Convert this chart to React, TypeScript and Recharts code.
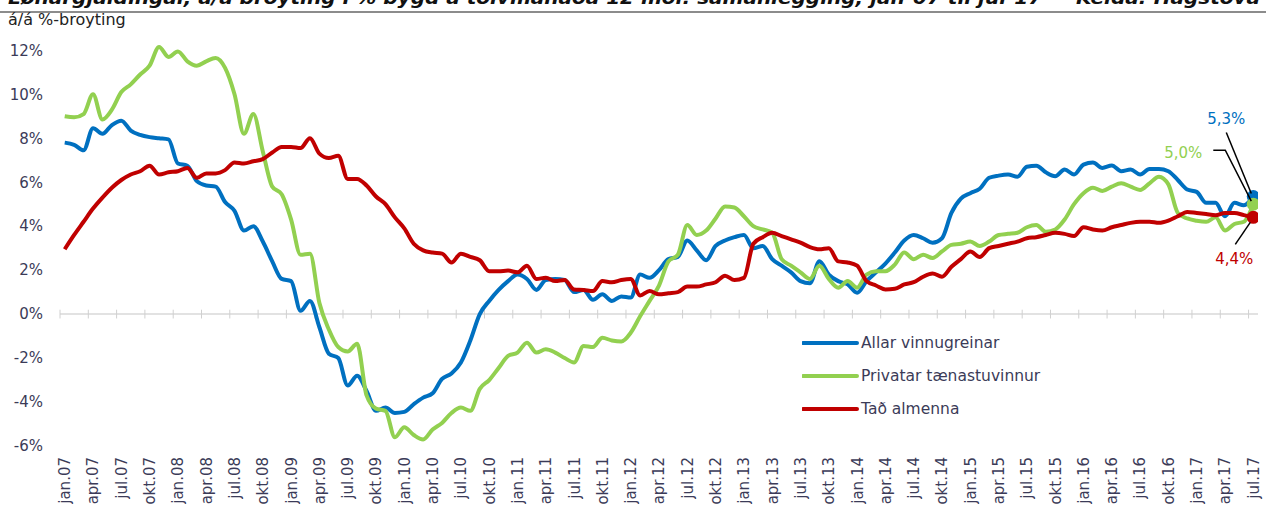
import React from 'react';
import { LineChart, Line, XAxis, YAxis, ReferenceLine } from 'recharts';

const monthNames = ['jan', 'feb', 'mar', 'apr', 'mai', 'jun', 'jul', 'aug', 'sep', 'okt', 'nov', 'des'];
const firstYear = 7;
const monthCount = 127;

const categories: string[] = [];
for (let i = 0; i < monthCount; i++) {
  const yy = firstYear + Math.floor(i / 12);
  categories.push(`${monthNames[i % 12]}.${String(yy).padStart(2, '0')}`);
}

const allarVinnugreinar = [
  7.8, 7.7, 7.45, 8.45, 8.2, 8.6, 8.8, 8.35, 8.15, 8.05, 8.0, 7.95,
  6.85, 6.75, 6.05, 5.85, 5.8, 5.1, 4.7, 3.8, 4.0, 3.3, 2.4, 1.6,
  1.5, 0.15, 0.6, -0.6, -1.8, -2.0, -3.25, -2.8, -3.5, -4.4, -4.25, -4.5,
  -4.45, -4.1, -3.8, -3.6, -2.95, -2.7, -2.2, -1.2, 0.0, 0.6, 1.1, 1.5,
  1.8, 1.6, 1.1, 1.55, 1.6, 1.55, 1.0, 1.1, 0.65, 0.9, 0.6, 0.8,
  0.75, 1.8, 1.65, 2.0, 2.5, 2.6, 3.35, 2.9, 2.45, 3.1, 3.35, 3.5,
  3.6, 3.0, 3.1, 2.5, 2.2, 1.9, 1.5, 1.4, 2.4, 1.8, 1.5, 1.35,
  0.97, 1.5, 1.9, 2.3, 2.8, 3.35, 3.6, 3.45, 3.25, 3.45, 4.6, 5.25,
  5.5, 5.7, 6.2, 6.3, 6.35, 6.25, 6.7, 6.75, 6.45, 6.27, 6.58, 6.35,
  6.8, 6.9, 6.65, 6.76, 6.5, 6.58, 6.35, 6.6, 6.6, 6.5, 6.1, 5.67,
  5.56, 5.06, 5.06, 4.45, 5.06, 4.95, 5.35,
];

const privatarTaenastuvinnur = [
  9.0, 8.95, 9.1, 10.0, 8.85, 9.3, 10.1, 10.45, 10.9, 11.3, 12.15, 11.7,
  11.95, 11.5, 11.3, 11.5, 11.65, 11.2, 10.0, 8.2, 9.1, 7.4, 5.8, 5.45,
  4.3, 2.7, 2.75, 0.5, -0.7, -1.5, -1.7, -1.35, -3.7, -4.3, -4.4, -5.6,
  -5.15, -5.5, -5.7, -5.25, -4.95, -4.5, -4.25, -4.4, -3.4, -3.0, -2.45, -1.9,
  -1.75, -1.3, -1.75, -1.6, -1.75, -2.0, -2.2, -1.45, -1.5, -1.08, -1.2, -1.25,
  -0.85, -0.1, 0.6, 1.3, 2.4, 2.7, 4.05, 3.6, 3.8, 4.35, 4.9, 4.85,
  4.45, 4.0, 3.85, 3.7, 2.5, 2.2, 1.9, 1.6, 2.2, 1.6, 1.2, 1.5,
  1.2, 1.8, 1.95, 1.95, 2.25, 2.8, 2.5, 2.7, 2.55, 2.85, 3.15, 3.2,
  3.3, 3.1, 3.3, 3.6, 3.65, 3.7, 3.95, 4.05, 3.75, 3.85, 4.3, 5.0,
  5.5, 5.75, 5.6, 5.8, 5.95, 5.8, 5.65, 5.95, 6.25, 5.9, 4.6, 4.35,
  4.25, 4.2, 4.4, 3.8, 4.1, 4.2, 5.0,
];

const tadAlmenna = [
  2.95, 3.6, 4.2, 4.8, 5.3, 5.75, 6.1, 6.35, 6.5, 6.75, 6.35, 6.45,
  6.5, 6.65, 6.2, 6.4, 6.4, 6.55, 6.9, 6.85, 6.95, 7.05, 7.35, 7.6,
  7.6, 7.55, 8.0, 7.3, 7.1, 7.2, 6.15, 6.15, 5.85, 5.35, 5.0, 4.4,
  3.9, 3.2, 2.9, 2.8, 2.75, 2.35, 2.75, 2.6, 2.45, 1.95, 1.95, 1.98,
  1.9, 2.2, 1.6, 1.65, 1.5, 1.55, 1.12, 1.1, 1.05, 1.5, 1.45, 1.55,
  1.6, 0.85, 1.05, 0.9, 0.95, 1.0, 1.25, 1.25, 1.35, 1.45, 1.75, 1.55,
  1.65, 3.2, 3.5, 3.7, 3.55, 3.4, 3.25, 3.05, 2.95, 3.0, 2.4, 2.35,
  2.2, 1.5, 1.3, 1.12, 1.15, 1.35, 1.45, 1.7, 1.85, 1.7, 2.15, 2.5,
  2.85, 2.6, 3.0, 3.1, 3.2, 3.3, 3.45, 3.5, 3.6, 3.7, 3.65, 3.55,
  3.95, 3.85, 3.8, 3.95, 4.05, 4.15, 4.2, 4.2, 4.15, 4.25, 4.45, 4.65,
  4.6, 4.55, 4.5, 4.6, 4.6, 4.5, 4.4,
];

const yTicks = [-6, -4, -2, 0, 2, 4, 6, 8, 10, 12];
const endLabels = ['5,3%', '5,0%', '4,4%'];
const seriesNames = ['Allar vinnugreinar', 'Privatar tænastuvinnur', 'Tað almenna'];
const titleText =
  'Lønargjaldingar, á/á broyting í % bygd á tólvmánaða 12 mðr. samanlegging, jan-07 til jul-17 — Kelda: Hagstova';
const subtitleText = 'á/á %-broyting';

const BLUE = '#0070C0';
const GREEN = '#92D050';
const RED = '#C00000';
const TEXT = '#3b3b58';
const FONT = '"DejaVu Sans", Verdana, sans-serif';

const data = categories.map((c, i) => ({
  x: i + 0.5,
  label: c,
  allar: allarVinnugreinar[i],
  privat: privatarTaenastuvinnur[i],
  almenna: tadAlmenna[i],
}));

const labelTicks = data.filter((_, i) => i % 3 === 0).map((d) => d.x);
const boundaryTicks = data.filter((_, i) => i % 3 === 0).map((_, k) => k * 3);

const XTick = (props: any) => {
  const { x, y, payload } = props;
  const idx = Math.round(payload.value - 0.5);
  return (
    <g transform={`translate(${x},${y + 11}) rotate(-90)`}>
      <text x={0} y={0} dy="0.36em" textAnchor="end" fill={TEXT} fontSize={15} fontFamily={FONT}>
        {categories[idx]}
      </text>
    </g>
  );
};

type EndSpec = {
  color: string;
  text: string;
  tx: number;
  ty: number;
  leader: string;
};

const makeEndDot = (spec: EndSpec) => (props: any) => {
  const { cx, cy, index } = props;
  if (index !== monthCount - 1) return <g key={`e${index}`} />;
  return (
    <g key={`e${index}`}>
      <circle cx={cx} cy={cy} r={6.5} fill={spec.color} />
      <polyline
        points={spec.leader
          .split(' ')
          .map((p) => {
            const [dx, dy] = p.split(',').map(Number);
            return `${cx + dx},${cy + dy}`;
          })
          .join(' ')}
        fill="none"
        stroke="#000"
        strokeWidth={1.5}
      />
      <text x={cx + spec.tx} y={cy + spec.ty} textAnchor="middle" fill={spec.color} fontSize={15} fontFamily={FONT}>
        {spec.text}
      </text>
    </g>
  );
};

const blueEnd = makeEndDot({ color: BLUE, text: endLabels[0], tx: -27, ty: -72, leader: '-27,-64 -2,-3' });
const greenEnd = makeEndDot({ color: GREEN, text: endLabels[1], tx: -70, ty: -46, leader: '-40,-54 -28,-54 -2,-3' });
const redEnd = makeEndDot({ color: RED, text: endLabels[2], tx: -19, ty: 47, leader: '-18,27 -3,5' });

const LegendBox = () => {
  const colors = [BLUE, GREEN, RED];
  return (
    <div style={{ position: 'absolute', left: 802, top: 326, fontFamily: FONT, fontSize: 15.5, color: TEXT }}>
      {seriesNames.map((n, i) => (
        <div key={n} style={{ display: 'flex', alignItems: 'center', height: 33 }}>
          <svg width={57} height={8} style={{ display: 'block' }}>
            <line x1={1} y1={4} x2={55} y2={4} stroke={colors[i]} strokeWidth={4} strokeLinecap="round" />
          </svg>
          <span style={{ marginLeft: 2, whiteSpace: 'nowrap' }}>{n}</span>
        </div>
      ))}
    </div>
  );
};

export default function App() {
  return (
    <div style={{ position: 'absolute', left: 0, top: 0, width: 1266, height: 510, background: '#fff', overflow: 'hidden' }}>
      <svg width={1266} height={16} style={{ position: 'absolute', left: 0, top: 0 }}>
        <text
          x={8}
          y={4}
          fontFamily={FONT}
          fontSize={17}
          fontWeight="bold"
          fontStyle="italic"
          fill="#111"
          textLength={1252}
          lengthAdjust="spacingAndGlyphs"
        >
          {titleText}
        </text>
        <rect x={0} y={11} width={1266} height={2} fill="#8c8c8c" />
      </svg>
      <div
        style={{ position: 'absolute', left: 8, top: 10, fontFamily: FONT, fontSize: 16, color: '#222', whiteSpace: 'nowrap' }}
      >
        {subtitleText}
      </div>
      <LineChart
        width={1266}
        height={510}
        data={data}
        margin={{ top: 47, right: 8, bottom: 0, left: 0 }}
      >
        <XAxis
          type="number"
          dataKey="x"
          domain={[0, monthCount]}
          ticks={labelTicks}
          interval={0}
          tick={<XTick />}
          tickLine={false}
          axisLine={false}
          tickSize={0}
          tickMargin={0}
          height={64}
          allowDataOverflow
        />
        <YAxis
          type="number"
          domain={[-6, 12]}
          ticks={yTicks}
          interval={0}
          tickFormatter={(v: number) => `${v}%`}
          tick={{ fill: TEXT, fontSize: 15, fontFamily: FONT }}
          tickLine={false}
          axisLine={false}
          tickSize={0}
          tickMargin={17}
          width={60}
        />
        <ReferenceLine y={0} stroke="#d9d9d9" strokeWidth={1.5} />
        {boundaryTicks.map((b) => (
          <ReferenceLine
            key={`t${b}`}
            segment={[
              { x: b, y: -0.2 },
              { x: b, y: 0.2 },
            ]}
            stroke="#d0d0d0"
            strokeWidth={1}
          />
        ))}
        <Line
          type="monotone"
          dataKey="allar"
          name={seriesNames[0]}
          stroke={BLUE}
          strokeWidth={4}
          dot={blueEnd}
          activeDot={false}
          isAnimationActive={false}
        />
        <Line
          type="monotone"
          dataKey="privat"
          name={seriesNames[1]}
          stroke={GREEN}
          strokeWidth={4}
          dot={greenEnd}
          activeDot={false}
          isAnimationActive={false}
        />
        <Line
          type="monotone"
          dataKey="almenna"
          name={seriesNames[2]}
          stroke={RED}
          strokeWidth={4}
          dot={redEnd}
          activeDot={false}
          isAnimationActive={false}
        />
      </LineChart>
      <LegendBox />
    </div>
  );
}
